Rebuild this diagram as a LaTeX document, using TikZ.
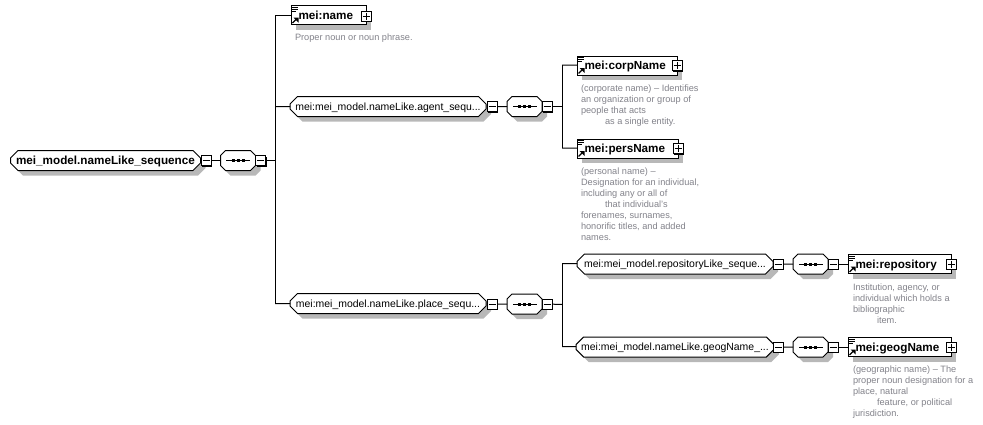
\documentclass[tikz,border=0pt]{standalone}
\usepackage{fontspec}
\setmainfont{Liberation Sans}
\usetikzlibrary{shapes.misc,shadows}
\definecolor{descgray}{HTML}{82828A}
\definecolor{shadowgray}{HTML}{B8B8B8}
\newcommand{\boldlbl}[1]{\fontsize{11.7}{11.7}\selectfont\bfseries #1}
\tikzset{
  x=1pt,y=-1pt,
  chamfbase/.style={chamfered rectangle,chamfered rectangle xsep=5pt,chamfered rectangle ysep=2.5pt,
    draw=black,fill=white,line width=1pt,inner sep=0pt,outer sep=0pt,minimum height=20pt,
    text height=8.5pt,text depth=1.5pt,
    general shadow={shadow xshift=5pt,shadow yshift=-5pt,fill=shadowgray}},
  groupnode/.style={chamfbase,minimum width=#1,font=\fontsize{10.45}{11}\selectfont},
  rootnode/.style={chamfbase,minimum width=#1,font=\boldlbl},
  seqnode/.style={chamfbase,minimum width=35pt,path picture={
    \fill[black] (path picture bounding box.center) ++(-12,-0.5) rectangle ++(24,1);
    \foreach \dx in {-5,0,5}{\fill[black] (path picture bounding box.center) ++(\dx-1.5,-1.5) rectangle ++(3,3);}
  }},
  elembox/.style={rectangle,draw=black,fill=white,line width=1pt,inner xsep=0pt,inner ysep=0pt,outer sep=0pt,
    minimum height=19pt,text width=#1,align=left,text height=9pt,text depth=1pt,
    general shadow={shadow xshift=5pt,shadow yshift=-5pt,fill=shadowgray},
    path picture={
        \fill[black] (path picture bounding box.north west) ++(1,1) rectangle ++(6,1);
        \fill[black] (path picture bounding box.north west) ++(1,3) rectangle ++(6,1);
        \fill[black] (path picture bounding box.north west) ++(1,5) rectangle ++(4,1);
        \draw[black,line width=1.3pt] (path picture bounding box.south west) ++(1.5,-1.5) -- ++(4,-4);
        \fill[black] (path picture bounding box.south west) ++(2.5,-7) -- ++(5,0) -- ++(0,5) -- cycle;
    }},
  togglebase/.style={rectangle,draw=black,fill=white,line width=1pt,inner sep=0pt,outer sep=0pt,
    minimum width=10pt,minimum height=10pt,
    general shadow={shadow xshift=1.4pt,shadow yshift=-1.4pt,fill=black}},
  minusbox/.style={togglebase,path picture={
    \draw[line width=1pt] (path picture bounding box.center) ++(-3.5,0) -- ++(7,0);}},
  plusbox/.style={togglebase,path picture={
    \draw[line width=1pt] (path picture bounding box.center) ++(-3.5,0) -- ++(7,0);
    \draw[line width=1pt] (path picture bounding box.center) ++(0,-3.5) -- ++(0,7);}},
  conn/.style={line width=1pt,draw=black},
  desc/.style={anchor=north west,inner sep=0pt,outer sep=0pt,align=left,text=descgray,
    font=\fontsize{9.2}{11.05}\selectfont},
}
\newcommand{\ind}{\hspace*{24pt}}
\begin{document}
\begin{tikzpicture}
\useasboundingbox (0,0) rectangle (983,424);
% junctions
\coordinate (j0) at (275,160.5);
\coordinate (j1) at (562,106.5);
\coordinate (j2) at (562,304.5);
\coordinate (jn) at (275,15);
\coordinate (ja) at (275,106.5);
\coordinate (jp) at (275,303.5);
\coordinate (jc) at (562,65);
\coordinate (jd) at (562,148);
\coordinate (je) at (562,263.5);
\coordinate (jf) at (562,346.5);
% connectors drawn first, below the nodes
\draw[conn] (jn) -- (jp);
\draw[conn] (jc) -- (jd);
\draw[conn] (je) -- (jf);
% root row
\node[rootnode=190pt] (root) at (105.5,160.5) {mei\_model.nameLike\_sequence};
\node[seqnode] (s0) at (238,160.5) {};
\node[minusbox] (m0) at (206,160.5) {};
\node[minusbox] (m1) at (260.5,160.5) {};
% name
\node[elembox=75pt] (name) at (328.5,15) {\hspace*{7.5pt}\boldlbl{mei:name}};
\node[plusbox] (pname) at (366,16) {};
\node[desc] (dname) at (295,33.5) {Proper noun or noun phrase.};
% agent
\node[groupnode=196pt] (agent) at (388,106.5) {mei:mei\_model.nameLike.agent\_sequ...};
\node[minusbox] (m2) at (492,106.5) {};
\node[seqnode] (s1) at (524.5,106.5) {};
\node[minusbox] (m3) at (547,106.5) {};
% corp
\node[elembox=100pt] (corp) at (627,65.5) {\hspace*{7.5pt}\boldlbl{mei:corpName}};
\node[plusbox] (pcorp) at (677,65.5) {};
\node[desc] (dcorp) at (581,84.5) {(corporate name) – Identifies\\an organization or group of\\people that acts\\\ind as a single entity.};
% pers
\node[elembox=101pt] (pers) at (627.5,148.5) {\hspace*{7.5pt}\boldlbl{mei:persName}};
\node[plusbox] (ppers) at (678,148.5) {};
\node[desc] (dpers) at (581,167.5) {(personal name) –\\Designation for an individual,\\including any or all of\\\ind that individual's\\forenames, surnames,\\honorific titles, and added\\names.};
% place
\node[groupnode=196pt] (place) at (388,303.5) {mei:mei\_model.nameLike.place\_sequ...};
\node[minusbox] (m4) at (492,304) {};
\node[seqnode] (s2) at (524.5,304) {};
\node[minusbox] (m5) at (547,304) {};
% repository
\node[groupnode=196pt] (repog) at (675,264) {mei:mei\_model.repositoryLike\_seque...};
\node[minusbox] (m6) at (778,264) {};
\node[seqnode] (s3) at (810.5,264) {};
\node[minusbox] (m7) at (833,264) {};
\node[elembox=103pt] (repo) at (899.5,264) {\hspace*{7.5pt}\boldlbl{mei:repository}};
\node[plusbox] (prepo) at (951,264) {};
\node[desc] (drepo) at (853,283.5) {Institution, agency, or\\individual which holds a\\bibliographic\\\ind item.};
% geog
\node[groupnode=196pt] (geogg) at (675,347) {mei:mei\_model.nameLike.geogName\_...};
\node[minusbox] (m8) at (778,347) {};
\node[seqnode] (s4) at (810.5,347) {};
\node[minusbox] (m9) at (833,347) {};
\node[elembox=103pt] (geog) at (899.5,347) {\hspace*{7.5pt}\boldlbl{mei:geogName}};
\node[plusbox] (pgeog) at (951,347) {};
\node[desc] (dgeog) at (853,365.5) {(geographic name) – The\\proper noun designation for a\\place, natural\\\ind feature, or political\\jurisdiction.};
% connectors
\draw[conn] (m0) -- (s0);
\draw[conn] (m1) -- (j0);
\draw[conn] (jn) -- (name);
\draw[conn] (ja) -- (agent);
\draw[conn] (jp) -- (place);
\draw[conn] (m2) -- (s1);
\draw[conn] (m3) -- (j1);
\draw[conn] (jc) -- (corp);
\draw[conn] (jd) -- (pers);
\draw[conn] (m4) -- (s2);
\draw[conn] (m5) -- (j2);
\draw[conn] (je) -- (repog);
\draw[conn] (jf) -- (geogg);
\draw[conn] (m6) -- (s3);
\draw[conn] (m7) -- (repo);
\draw[conn] (m8) -- (s4);
\draw[conn] (m9) -- (geog);
\end{tikzpicture}
\end{document}
